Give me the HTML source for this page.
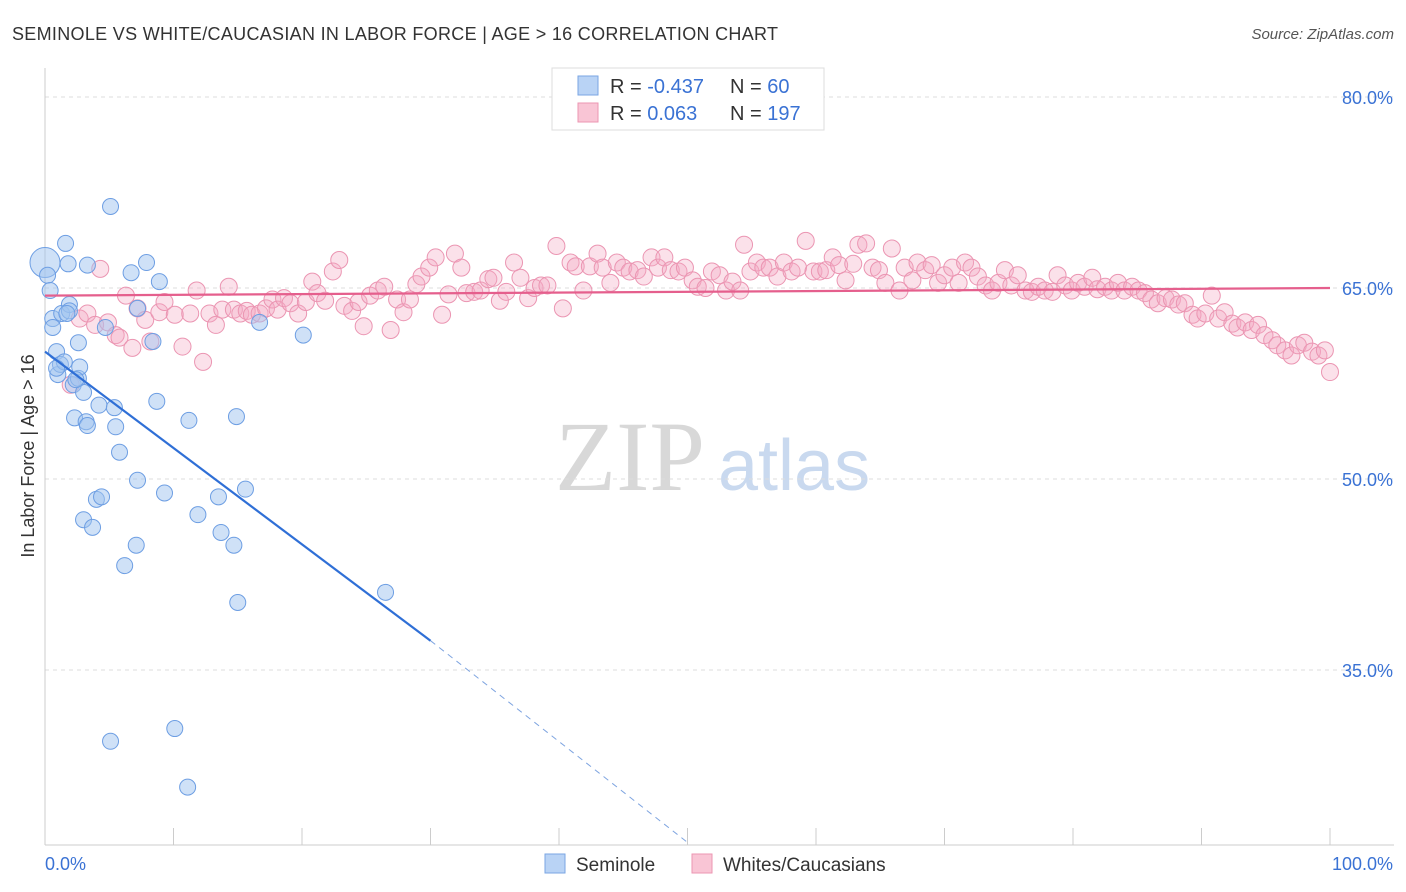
<!DOCTYPE html>
<html><head><meta charset="utf-8"><style>
body{margin:0;background:#fff;font-family:"Liberation Sans",sans-serif;}
#wrap{position:relative;width:1406px;height:892px;overflow:hidden;}
</style></head><body>
<div id="wrap">
<svg id="svg" width="1406" height="892" xmlns="http://www.w3.org/2000/svg">
<text x="12" y="40" font-size="18" fill="#333" textLength="766">SEMINOLE VS WHITE/CAUCASIAN IN LABOR FORCE | AGE &gt; 16 CORRELATION CHART</text>
<text x="1394" y="39" font-size="15" fill="#555" font-style="italic" text-anchor="end">Source: ZipAtlas.com</text>
<text x="34" y="456" font-size="18" fill="#333" text-anchor="middle" transform="rotate(-90 34 456)">In Labor Force | Age &gt; 16</text>
<text x="555" y="490" font-size="100" fill="#d8d8d8" font-family="Liberation Serif,serif">ZIP</text>
<text x="718" y="490" font-size="72" fill="#c9d9ef">atlas</text>
<g id="grid"></g><g id="pts"></g><g id="lines"></g>
<g>
<rect x="552" y="68" width="272" height="62" fill="#fff" stroke="#ddd"/>
<rect x="578" y="76" width="20" height="19" fill="#b9d3f5" stroke="#7aa6e3"/>
<rect x="578" y="103" width="20" height="19" fill="#f9c5d5" stroke="#ec96b2"/>
<text x="610" y="93" font-size="20" fill="#333">R = <tspan fill="#3a72d4">-0.437</tspan></text>
<text x="730" y="93" font-size="20" fill="#333">N = <tspan fill="#3a72d4"> 60</tspan></text>
<text x="610" y="120" font-size="20" fill="#333">R = <tspan fill="#3a72d4"> 0.063</tspan></text>
<text x="730" y="120" font-size="20" fill="#333">N = <tspan fill="#3a72d4">197</tspan></text>
</g>
<g>
<rect x="545" y="854" width="20" height="19" fill="#b9d3f5" stroke="#7aa6e3"/>
<text x="576" y="871" font-size="19" fill="#333">Seminole</text>
<rect x="692" y="854" width="20" height="19" fill="#f9c5d5" stroke="#ec96b2"/>
<text x="723" y="871" font-size="19" fill="#333">Whites/Caucasians</text>
</g>
<text x="45" y="870" font-size="18" fill="#3a72d4">0.0%</text>
<text x="1393" y="870" font-size="18" fill="#3a72d4" text-anchor="end">100.0%</text>
</svg>
</div>
<script>
const yTicks=[80,65,50,35];
const yTickLabels=["80.0%","65.0%","50.0%","35.0%"];
const xTicks=[0,10,20,30,40,50,60,70,80,90,100];
const blueX=[0,0.2,0.4,0.6,0.6,0.9,1,1.2,1.3,1.6,1.8,1.9,1.9,2.2,2.3,2.6,2.6,2.7,3,3,3.2,3.3,3.3,3.7,4,4.2,4.4,4.7,5.1,5.1,5.4,5.5,5.8,6.2,6.7,7.1,7.2,7.2,7.9,8.4,8.7,8.9,9.3,10.1,11.1,11.2,11.9,13.5,13.7,14.7,14.9,15,15.6,16.7,20.1,26.5,1.5,2.4,0.9,1.7];
const blueY=[67,66,64.8,62.6,61.9,60,58.2,59,63,68.5,66.9,63.7,63.2,57.4,54.8,57.9,60.7,58.8,56.8,46.8,54.5,66.8,54.2,46.2,48.4,55.8,48.6,61.9,71.4,29.4,55.6,54.1,52.1,43.2,66.2,44.8,63.4,49.9,67,60.8,56.1,65.5,48.9,30.4,25.8,54.6,47.2,48.6,45.8,44.8,54.9,40.3,49.2,62.3,61.3,41.1,59.2,57.8,58.7,63];
const pinkX=[2,2.7,3.3,3.9,4.3,4.9,5.5,5.8,6.3,6.8,7.2,7.8,8.2,8.9,9.3,10.1,10.7,11.3,11.8,12.3,12.8,13.3,13.8,14.3,14.7,15.2,15.7,16.1,16.7,17.2,17.7,18.1,18.6,19.1,19.7,20.3,20.8,21.2,21.8,22.4,22.9,23.3,23.9,24.4,24.8,25.3,25.9,26.4,26.9,27.4,27.9,28.4,28.9,29.3,29.9,30.4,30.9,31.4,31.9,32.4,32.8,33.4,33.9,34.5,34.9,35.4,35.9,36.5,37,37.6,38.1,38.6,39.1,39.8,40.3,40.9,41.3,41.9,42.4,43,43.4,44,44.5,45,45.5,46.1,46.6,47.2,47.7,48.2,48.7,49.3,49.8,50.4,50.8,51.4,51.9,52.5,53,53.5,54.1,54.4,54.9,55.4,55.9,56.4,57,57.5,58.1,58.6,59.2,59.8,60.3,60.8,61.3,61.8,62.3,62.9,63.3,63.9,64.4,64.9,65.4,65.9,66.5,66.9,67.5,67.9,68.5,69,69.5,70,70.6,71.1,71.6,72.1,72.6,73.2,73.7,74.2,74.7,75.2,75.7,76.3,76.8,77.3,77.8,78.4,78.8,79.4,79.9,80.4,80.9,81.5,81.9,82.5,83,83.5,84,84.6,85.1,85.6,86.1,86.6,87.2,87.7,88.2,88.7,89.3,89.7,90.3,90.8,91.3,91.8,92.4,92.8,93.4,93.9,94.4,94.9,95.5,95.9,96.5,97,97.5,98,98.6,99.1,99.6,100];
const pinkY=[57.4,62.6,63,62.1,66.5,62.3,61.3,61.1,64.4,60.3,63.4,62.5,60.8,63.1,63.9,62.9,60.4,63,64.8,59.2,63,62.1,63.3,65.1,63.3,63,63.2,62.9,63,63.4,64.1,63.3,64.2,63.8,63,63.9,65.5,64.6,64,66.3,67.2,63.6,63.2,63.9,62,64.4,64.8,65.1,61.7,64.1,63.1,64.1,65.3,65.9,66.6,67.4,62.9,64.5,67.7,66.6,64.6,64.7,64.8,65.7,65.8,64,64.7,67,65.8,64.2,65,65.2,65.2,68.3,63.4,67,66.7,64.8,66.7,67.7,66.6,65.4,67,66.6,66.3,66.4,65.9,67.4,66.6,67.4,66.4,66.3,66.6,65.6,65.1,65,66.3,66,64.8,65.5,64.8,68.4,66.3,67,66.6,66.6,65.9,67,66.3,66.6,68.7,66.3,66.3,66.4,67.4,66.8,65.6,66.9,68.4,68.5,66.6,66.4,65.4,68.1,64.8,66.6,65.6,67,66.4,66.8,65.4,66,66.6,65.4,67,66.6,65.9,65.2,64.8,65.4,66.4,65.2,66,64.8,64.7,65.1,64.8,64.7,66,65.2,64.8,65.4,65.1,65.8,64.9,65.1,64.8,65.4,64.8,65.1,64.8,64.6,64.1,63.8,64.2,64.1,63.7,63.8,62.9,62.6,63,64.4,62.6,63.1,62.2,61.9,62.3,61.7,62.1,61.3,60.9,60.5,60.1,59.7,60.5,60.7,60,59.7,60.1,58.4];
const blueLine=[[0,60],[30,37.3]];
const blueDash=[[30,37.3],[50.2,21.3]];
const pinkLine=[[0,64.4],[100,65]];
const NS="http://www.w3.org/2000/svg";
const sx=v=>45+v*12.85, sy=v=>97+(80-v)*12.733;
function mk(t,a,p){const e=document.createElementNS(NS,t);for(const k in a)e.setAttribute(k,a[k]);p.appendChild(e);return e;}
const grid=document.getElementById('grid'),pts=document.getElementById('pts'),lines=document.getElementById('lines');
yTicks.forEach((v,i)=>{
 const l=mk('line',{x1:45,x2:1394,y1:sy(v),y2:sy(v),stroke:'#ddd','stroke-dasharray':'4,4'},grid);
 
 
 const t=mk('text',{x:1393,y:sy(v)+7,'font-size':18,fill:'#3a72d4','text-anchor':'end'},grid);
 t.textContent=yTickLabels[i];
 
 
});
mk('line',{x1:45,x2:45,y1:68,y2:845,stroke:'#ccc'},grid);
mk('line',{x1:45,x2:1394,y1:845,y2:845,stroke:'#ccc'},grid);
xTicks.forEach(v=>{
 const l=mk('line',{x1:sx(v),x2:sx(v),y1:828,y2:845,stroke:'#ccc'},grid);
 
 
});
pinkX.forEach((x,i)=>{
 const c=mk('circle',{cx:sx(x),cy:sy(pinkY[i]),r:8.5,fill:'rgba(244,170,195,0.35)',stroke:'#eb95b2','stroke-width':1},pts);
 
 
});
blueX.forEach((x,i)=>{
 const c=mk('circle',{cx:sx(x),cy:sy(blueY[i]),r:i==0?15:8,fill:'rgba(160,195,240,0.5)',stroke:'#6d9ee3','stroke-width':1},pts);
 
 
});
function ln(d,col,w,dash,name){const e=mk('line',{x1:sx(d[0][0]),y1:sy(d[0][1]),x2:sx(d[1][0]),y2:sy(d[1][1]),stroke:col,'stroke-width':w},lines);if(dash)e.setAttribute('stroke-dasharray',dash);
 
 }
ln(pinkLine,'#e55f8d',2.2,null,'whites-trendline');
ln(blueLine,'#2f6fd6',2.2,null,'seminole-trendline');
ln(blueDash,'#7ea4e0',1,'6,5','seminole-trendline-extension');
</script>
</body></html>
